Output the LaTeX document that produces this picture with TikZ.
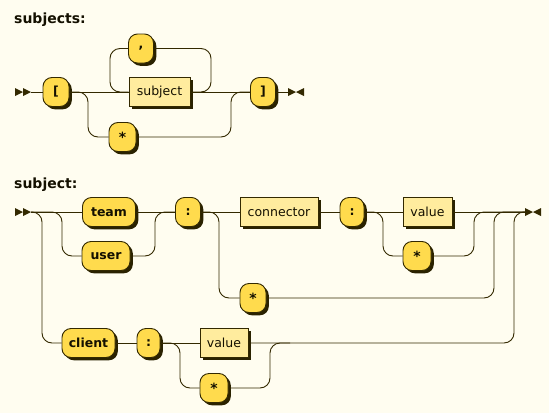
\documentclass[tikz,border=0pt]{standalone}
\usepackage{fontspec}
\setmainfont{DejaVu Sans}
\usetikzlibrary{shadows}
\definecolor{bgc}{HTML}{FFFDF0}
\definecolor{termc}{HTML}{FFDB4D}
\definecolor{ntermc}{HTML}{FFEC9E}
\definecolor{linec}{HTML}{332900}
\definecolor{shadc}{HTML}{2A2200}
\definecolor{txtc}{HTML}{141000}
\tikzset{
  rr/.style={draw=linec, line width=0.9pt, rounded corners=10pt},
  boxbase/.style={draw=linec, line width=0.9pt, minimum height=29pt, inner sep=0pt,
    text=txtc, font=\fontsize{12.5}{14}\selectfont,
    general shadow={shadow xshift=2.8pt, shadow yshift=-2.8pt, fill=shadc}},
  term/.style={boxbase, fill=termc, rounded corners=9pt, font=\bfseries\fontsize{12.5}{14}\selectfont},
  nterm/.style={boxbase, fill=ntermc},
  ttl/.style={anchor=base west, inner sep=0pt, text=txtc, font=\bfseries\fontsize{14}{16}\selectfont},
  tri/.style={fill=linec, draw=none}
}
\newcommand{\rrstar}{{\fontsize{14}{14}\selectfont *}}
\begin{document}
\begin{tikzpicture}[x=1pt,y=-1pt]
\fill[bgc] (0,0) rectangle (549,413);
\useasboundingbox (0,0) rectangle (549,413);

% ---------- subjects ----------
\node[ttl] (t1) at (14,23) {subjects:};
\fill[tri] (15,88) -- (23,92) -- (15,96) -- cycle;
\fill[tri] (23,88) -- (31,92) -- (23,96) -- cycle;
\coordinate (s1) at (31,92);
\node[term, minimum width=26pt] (lb) at (56,92) {[};
\node[term, minimum width=25pt] (comma) at (141,48.5) {,};
\node[nterm, minimum width=61pt] (subj) at (159.5,92) {subject};
\node[term, minimum width=27pt] (star1) at (122.5,137) {\rrstar};
\node[term, minimum width=25pt] (rb) at (263,92) {]};
\coordinate (e1) at (288,92);
\fill[tri] (288,88) -- (296,92) -- (288,96) -- cycle;
\fill[tri] (304,88) -- (296,92) -- (304,96) -- cycle;

\draw[rr] (s1) -- (lb.west);
\draw[rr] (lb.east) -- (subj.west);
\draw[rr] (lb.east) -- (88,92) -- (88,137) -- (star1.west);
\draw[rr] (star1.east) -- (231,137) -- (231,92) -- (rb.west);
\draw[rr] (subj.east) -- (rb.west);
\draw[rr] (subj.east) -- (211,92) -- (211,48.5) -- (comma.east);
\draw[rr] (comma.west) -- (110,48.5) -- (110,92) -- (subj.west);
\draw[rr] (rb.east) -- (e1);

% ---------- subject ----------
\node[ttl] (t2) at (14,188) {subject:};
\fill[tri] (15,208) -- (23,212) -- (15,216) -- cycle;
\fill[tri] (23,208) -- (31,212) -- (23,216) -- cycle;
\coordinate (s2) at (31,212);
\node[term, minimum width=53pt] (team) at (109,212) {team};
\node[term, minimum width=48pt] (user) at (106,256) {user};
\node[term, minimum width=25pt] (col1) at (188,212) {:};
\node[nterm, minimum width=78pt] (conn) at (279,212) {connector};
\node[term, minimum width=26pt] (star2) at (253,298) {\rrstar};
\node[term, minimum width=24pt] (col2) at (352,212) {:};
\node[nterm, minimum width=49pt] (val1) at (427.5,212) {value};
\node[term, minimum width=28pt] (star3) at (417,256) {\rrstar};
\node[term, minimum width=53pt] (client) at (88.5,343) {client};
\node[term, minimum width=23pt] (col3) at (148.5,343) {:};
\node[nterm, minimum width=48pt] (val2) at (224,343) {value};
\node[term, minimum width=28pt] (star4) at (214,388) {\rrstar};
\coordinate (e2) at (525,212);
\fill[tri] (525,208) -- (533,212) -- (525,216) -- cycle;
\fill[tri] (541,208) -- (533,212) -- (541,216) -- cycle;

\draw[rr] (s2) -- (team.west);
\draw[rr] (s2) -- (62,212) -- (62,256) -- (user.west);
\draw[rr] (s2) -- (42,212) -- (42,343) -- (client.west);
\draw[rr] (team.east) -- (col1.west);
\draw[rr] (user.east) -- (155,256) -- (155,212) -- (col1.west);
\draw[rr] (col1.east) -- (conn.west);
\draw[rr] (col1.east) -- (219,212) -- (219,298) -- (star2.west);
\draw[rr] (conn.east) -- (col2.west);
\draw[rr] (col2.east) -- (val1.west);
\draw[rr] (col2.east) -- (383,212) -- (383,256) -- (star3.west);
\draw[rr] (star3.east) -- (474,256) -- (474,212) -- (e2);
\draw[rr] (val1.east) -- (e2);
\draw[rr] (star2.east) -- (494,298) -- (494,212) -- (e2);
\draw[rr] (client.east) -- (col3.west);
\draw[rr] (col3.east) -- (val2.west);
\draw[rr] (col3.east) -- (180,343) -- (180,388) -- (star4.west);
\draw[rr] (star4.east) -- (270,388) -- (270,343) -- (290,343);
\draw[rr] (val2.east) -- (514,343) -- (514,212) -- (e2);
\end{tikzpicture}
\end{document}
